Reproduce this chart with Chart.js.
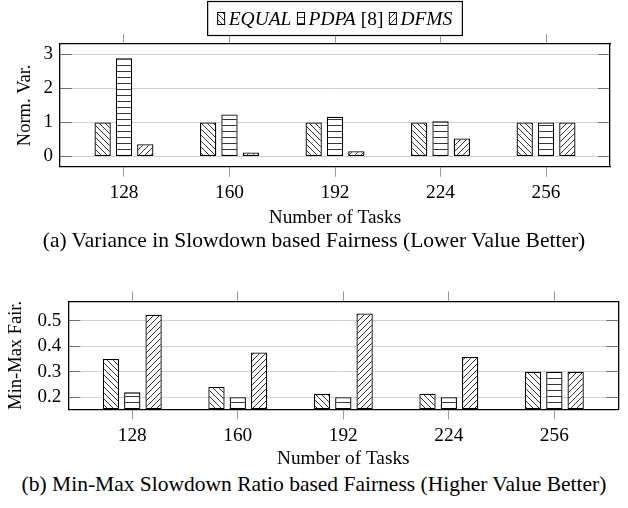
<!DOCTYPE html>
<html lang="en">
<head>
<meta charset="UTF-8">
<title>Slowdown Fairness</title>
<script src="https://cdn.jsdelivr.net/npm/chart.js"></script>
<style>
    body {
        margin: 0;
        background: #fff;
        font-family: 'Liberation Serif', serif;
    }

    .fig {
        position: relative;
        width: 628px;
        height: 508px;
    }

    canvas {
        position: absolute;
        left: 0;
    }

    .caption {
        position: absolute;
        left: 0;
        width: 628px;
        text-align: center;
        font-size: 21.5px;
        line-height: 24px;
        color: #000;
    }
</style>
</head>
<body>
<div class="fig">
    <canvas id="chartVar" width="628" height="230" style="top:0"></canvas>
    <div class="caption" style="top:228px">(a) Variance in Slowdown based Fairness (Lower Value Better)</div>
    <canvas id="chartFair" width="628" height="200" style="top:271px"></canvas>
    <div class="caption" style="top:472px">(b) Min-Max Slowdown Ratio based Fairness (Higher Value Better)</div>
</div>

<script>
    // data
    const tasks = [128, 160, 192, 224, 256];
    const schemes = ['EQUAL', 'PDPA', 'DFMS'];
    const citations = ['', ' [8]', ''];

    const varEqual = [1.0, 1.0, 1.0, 1.0, 1.0];
    const varPdpa = [2.88, 1.235, 1.165, 1.03, 1.0];
    const varDfms = [0.36, 0.12, 0.155, 0.53, 1.0];

    const fairEqual = [0.35, 0.24, 0.214, 0.214, 0.30];
    const fairPdpa = [0.219, 0.2, 0.2, 0.2, 0.30];
    const fairDfms = [0.523, 0.375, 0.528, 0.358, 0.30];

    const serif = "'Liberation Serif', serif";
    Chart.defaults.font.family = serif;
    Chart.defaults.color = '#000';

    function hatch(ctx, kind) {
        const s = 6;
        const c = document.createElement('canvas');
        c.width = s;
        c.height = s;
        const g = c.getContext('2d');
        g.fillStyle = '#fff';
        g.fillRect(0, 0, s, s);
        g.strokeStyle = '#000';
        g.lineWidth = 0.8;
        g.beginPath();
        for (let k = -1; k <= 1; k++) {
            if (kind === 'nw') { g.moveTo(k * s, 0); g.lineTo(k * s + s, s); }
            if (kind === 'ne') { g.moveTo(k * s, s); g.lineTo(k * s + s, 0); }
        }
        if (kind === 'h') { g.moveTo(0, s - 0.5); g.lineTo(s, s - 0.5); }
        g.stroke();
        return ctx.createPattern(c, 'repeat');
    }

    // boxed legend above the first plot, swatches use the datasets' own fills
    const legendBox = {
        id: 'legendBox',
        afterDraw(chart) {
            const ctx = chart.ctx;
            const sets = chart.data.datasets;
            const italic = 'italic 19.5px ' + serif;
            const upright = '19.5px ' + serif;
            const sw = 7, sh = 12, gap = 4, between = 6, pad = 10;

            const parts = sets.map((ds, i) => {
                ctx.font = italic;
                const w1 = ctx.measureText(schemes[i]).width;
                ctx.font = upright;
                const w2 = citations[i] ? ctx.measureText(citations[i]).width : 0;
                return { w1, w2 };
            });
            let total = pad * 2;
            parts.forEach((p, i) => { total += sw + gap + p.w1 + p.w2 + (i ? between : 0); });

            const cx = (chart.chartArea.left + chart.chartArea.right) / 2;
            const top = 1.5, bottom = 35.5, mid = (top + bottom) / 2;
            let x = cx - total / 2;

            ctx.save();
            ctx.fillStyle = '#fff';
            ctx.fillRect(x, top, total, bottom - top);
            ctx.strokeStyle = '#000';
            ctx.lineWidth = 1.2;
            ctx.strokeRect(x, top, total, bottom - top);

            x += pad;
            ctx.textBaseline = 'middle';
            ctx.textAlign = 'left';
            sets.forEach((ds, i) => {
                if (i) x += between;
                ctx.fillStyle = ds.backgroundColor;
                ctx.fillRect(x, mid - sh / 2, sw, sh);
                ctx.lineWidth = 1;
                ctx.strokeRect(x, mid - sh / 2, sw, sh);
                x += sw + gap;
                ctx.fillStyle = '#000';
                ctx.font = italic;
                ctx.fillText(schemes[i], x, mid + 1);
                x += parts[i].w1;
                if (citations[i]) {
                    ctx.font = upright;
                    ctx.fillText(citations[i], x, mid + 1);
                    x += parts[i].w2;
                }
            });
            ctx.restore();
        }
    };

    function makeChart(id, series, opt) {
        const ctx = document.getElementById(id).getContext('2d');
        const fills = [hatch(ctx, 'nw'), hatch(ctx, 'h'), hatch(ctx, 'ne')];

        const datasets = series.map((vals, i) => ({
            label: schemes[i] + citations[i],
            data: tasks.map((t, j) => ({ x: t, y: vals[j] })),
            backgroundColor: fills[i],
            borderColor: '#000',
            borderWidth: 1.3,
            borderSkipped: false,
            base: opt.base,
            clip: 0,
            xAxisID: 'x',
            yAxisID: 'y',
            categoryPercentage: 0.606,
            barPercentage: 0.765
        }));

        const xRange = { type: 'linear', min: 108.6, max: 275.4, offset: false };
        const yRange = { type: 'linear', min: opt.yMin, max: opt.yMax, beginAtZero: false };

        return new Chart(ctx, {
            type: 'bar',
            data: { datasets },
            plugins: opt.legend ? [legendBox] : [],
            options: {
                responsive: false,
                animation: false,
                events: [],
                layout: { padding: { top: opt.padTop, left: 0, right: 0, bottom: 0 } },
                plugins: {
                    legend: { display: false },
                    tooltip: { enabled: false }
                },
                scales: {
                    x: {
                        ...xRange,
                        position: 'bottom',
                        afterFit: s => { s.height = opt.xHeight; },
                        ticks: {
                            stepSize: 32,
                            includeBounds: false,
                            padding: 4.8,
                            font: { size: 19.3 },
                            callback: v => String(v)
                        },
                        grid: { drawOnChartArea: false, offset: false, tickLength: 10, tickColor: '#9a9a9a', tickWidth: 1 },
                        border: { color: '#000', width: 1.3 },
                        title: { display: true, text: 'Number of Tasks', font: { size: 19.3 }, padding: 0 }
                    },
                    x2: {
                        ...xRange,
                        position: 'top',
                        afterFit: s => { s.height = 10; },
                        ticks: { stepSize: 32, includeBounds: false, display: false },
                        grid: { drawOnChartArea: false, offset: false, tickLength: 10, tickColor: '#9a9a9a', tickWidth: 1 },
                        border: { color: '#000', width: 1.3 }
                    },
                    y: {
                        ...yRange,
                        position: 'left',
                        afterFit: s => { s.width = opt.yWidth; },
                        ticks: {
                            stepSize: opt.yStep,
                            includeBounds: false,
                            padding: 19,
                            font: { size: 19 },
                            callback: v => v.toFixed(opt.digits)
                        },
                        grid: { color: '#d2d2d2', lineWidth: 1, tickLength: -12, tickColor: '#707070', tickWidth: 1 },
                        border: { color: '#000', width: 1.3 },
                        title: { display: true, text: opt.yTitle, font: { size: 18.5 }, padding: { top: opt.titlePad, bottom: 0 } }
                    },
                    y2: {
                        ...yRange,
                        position: 'right',
                        afterFit: s => { s.width = opt.rightWidth; },
                        ticks: { stepSize: opt.yStep, includeBounds: false, display: false },
                        grid: { drawOnChartArea: false, tickLength: -12, tickColor: '#707070', tickWidth: 1 },
                        border: { color: '#000', width: 1.3 }
                    }
                }
            }
        });
    }

    makeChart('chartVar', [varEqual, varPdpa, varDfms], {
        legend: true,
        base: 0,
        yMin: -0.3,
        yMax: 3.3,
        yStep: 1,
        digits: 0,
        yTitle: 'Norm. Var.',
        titlePad: 14,
        padTop: 34,
        yWidth: 60,
        rightWidth: 18,
        xHeight: 63.3
    });

    makeChart('chartFair', [fairEqual, fairPdpa, fairDfms], {
        legend: false,
        base: 0.1526,
        yMin: 0.1526,
        yMax: 0.5755,
        yStep: 0.1,
        digits: 1,
        yTitle: 'Min-Max Fair.',
        titlePad: 5,
        padTop: 6.3,
        yWidth: 68.3,
        rightWidth: 9.7,
        xHeight: 61.7
    });
</script>
</body>
</html>
